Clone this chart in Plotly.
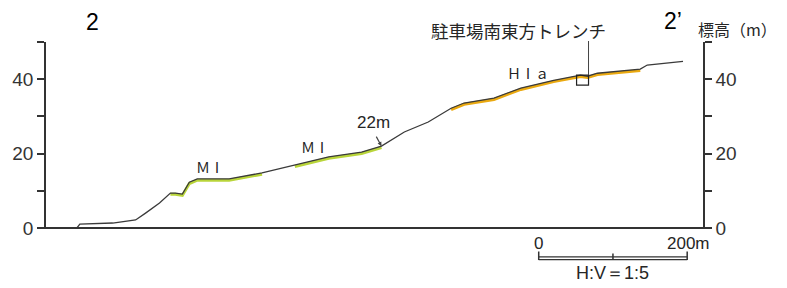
import plotly.graph_objects as go

# ---- data (distance along section in m, elevation in m) ----
dist_m = [41.6, 45.6, 89.8, 120.7, 134.1, 152.9, 167.6, 174.3, 183.7, 193.1, 203.8,
          246.7, 291.0, 335.2, 380.8, 425.1, 451.9, 482.7, 514.9, 545.7, 563.2,
          603.4, 639.6, 683.8, 720.0, 729.4, 742.8, 800.5, 809.9, 858.1]
elev_m = [0.0, 1.07, 1.34, 2.15, 4.0, 6.7, 9.4, 9.4, 9.1, 12.3, 13.2,
          13.2, 14.8, 16.9, 19.1, 20.4, 22.0, 25.8, 28.5, 32.2, 33.6,
          34.9, 37.6, 39.7, 41.1, 40.8, 41.6, 42.7, 43.8, 44.8]

# terrace surfaces (distance ranges along section)
terrace_names = ["MI", "MI", "HIa"]
terrace_from = [163.6, 331.0, 545.7]
terrace_to = [293.6, 451.9, 800.5]
terrace_colors = ["#b9d53a", "#b9d53a", "#eaa910"]

y_ticks = [0, 10, 20, 30, 40, 50]
y_ticktext = ["0", "", "20", "", "40", ""]

trench_x = [714.7, 730.8]
trench_y = [38.4, 41.1]

scale_from = 663.7
scale_len = 200

XMAX = 885
FONT = "Liberation Sans Narrow, Liberation Sans, Arial, sans-serif"
CJK = "Noto Sans CJK JP"
TXT = "#262626"

fig = go.Figure()

# terrace colour bands (drawn just under the profile line)
for name, a, b, c in zip(terrace_names, terrace_from, terrace_to, terrace_colors):
    xs = [d for d in dist_m if a <= d <= b]
    ys = [e for d, e in zip(dist_m, elev_m) if a <= d <= b]
    fig.add_trace(go.Scatter(x=xs, y=[v - 0.35 for v in ys], mode="lines",
                             line=dict(color=c, width=3), hoverinfo="skip",
                             showlegend=False))

fig.add_trace(go.Scatter(x=dist_m, y=elev_m, mode="lines",
                         line=dict(color="#3a3a3a", width=1.3),
                         showlegend=False, name="profile"))

# dummy trace for the right axis
fig.add_trace(go.Scatter(x=[None], y=[None], yaxis="y2", showlegend=False))

axis_common = dict(range=[0, 50], tickvals=y_ticks, ticktext=y_ticktext,
                   ticks="outside", ticklen=7, tickwidth=1.5, tickcolor="#333",
                   showline=True, linewidth=1.5, linecolor="#333",
                   showgrid=False, zeroline=False,
                   tickfont=dict(family=FONT, size=19, color="#333"))

fig.update_layout(
    width=787, height=288,
    margin=dict(l=43, r=84, t=42, b=60),
    paper_bgcolor="white", plot_bgcolor="white",
    xaxis=dict(range=[0, XMAX], showgrid=False, zeroline=False, showline=False,
               showticklabels=False, ticks=""),
    yaxis=dict(side="left", **axis_common),
    yaxis2=dict(side="right", overlaying="y", **axis_common),
)

PX = lambda p: (p - 43) / 660.0
PY = lambda p: (228 - p) / 186.0

shapes = []
# baseline
shapes.append(dict(type="line", xref="paper", yref="paper", x0=PX(37), x1=PX(710),
                   y0=0, y1=0, line=dict(color="#333", width=2.2)))
# trench box and leader
shapes.append(dict(type="rect", xref="x", yref="y", x0=trench_x[0], x1=trench_x[1],
                   y0=trench_y[0], y1=trench_y[1], line=dict(color="#222", width=1.2)))
shapes.append(dict(type="line", xref="x", yref="paper", x0=trench_x[1], x1=trench_x[1],
                   y0=PY(75), y1=PY(41), line=dict(color="#444", width=1)))
# scale bar (double line with ticks)
for yy in (256.8, 259.6):
    shapes.append(dict(type="line", xref="x", yref="paper", x0=scale_from,
                       x1=scale_from + scale_len, y0=PY(yy), y1=PY(yy),
                       line=dict(color="#333", width=1.2)))
for xx, top in ((scale_from, 251.5), (scale_from + scale_len / 2, 253.5),
                (scale_from + scale_len, 251.5)):
    shapes.append(dict(type="line", xref="x", yref="paper", x0=xx, x1=xx,
                       y0=PY(top), y1=PY(260), line=dict(color="#333", width=1.5)))
fig.update_layout(shapes=shapes)

ann = [
    dict(x=PX(90), y=PY(22), text="2", font=dict(family="Liberation Sans", size=23, color="#000")),
    dict(x=PX(673), y=PY(21), text="2’", font=dict(family="Liberation Sans", size=23, color="#000")),
    dict(x=PX(738), y=PY(29), text="標高（m）", font=dict(family=CJK, size=16, color=TXT)),
    dict(x=PX(518), y=PY(30), text="駐車場南東方トレンチ", font=dict(family=CJK, size=17.5, color=TXT)),
    dict(x=PX(208), y=PY(167), text="ＭⅠ", font=dict(family=CJK, size=14, color="#222")),
    dict(x=PX(313), y=PY(147), text="ＭⅠ", font=dict(family=CJK, size=14, color="#222")),
    dict(x=PX(372), y=PY(123), text="22m", font=dict(family=FONT, size=17, color=TXT)),
    dict(x=PX(527), y=PY(73), text="ＨⅠａ", font=dict(family=CJK, size=14, color="#222")),
    dict(x=PX(538), y=PY(243), text="0", font=dict(family=FONT, size=17, color=TXT)),
    dict(x=PX(688), y=PY(243), text="200m", font=dict(family=FONT, size=17, color=TXT)),
    dict(x=PX(612), y=PY(273), text="H:V＝1:5", font=dict(family=FONT, size=18, color=TXT)),
]
for a in ann:
    a.update(xref="paper", yref="paper", showarrow=False, xanchor="center", yanchor="middle")
fig.update_layout(annotations=ann)
fig.add_annotation(x=dist_m[16], y=elev_m[16], xref="x", yref="y", text="", showarrow=True,
                   ax=-6, ay=-11, arrowhead=2, arrowsize=0.7, arrowwidth=1.2,
                   arrowcolor="#444")

fig.write_html("out.html", config={"displayModeBar": False},
               post_script="document.body.style.margin='0';document.body.style.overflow='hidden';")
